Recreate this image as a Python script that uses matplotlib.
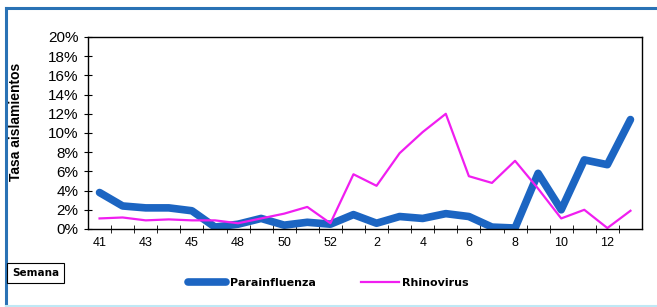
import matplotlib.pyplot as plt
from matplotlib.lines import Line2D
from matplotlib.ticker import FixedLocator, PercentFormatter

plt.rcParams['font.family'] = ['Liberation Sans', 'DejaVu Sans']

# Weeks (epidemiological) and isolation rates in %
semanas = ['41', '42', '43', '44', '45', '47', '48', '49', '50', '51', '52',
           '1', '2', '3', '4', '5', '6', '7', '8', '9', '10', '11', '12', '13']
parainfluenza = [3.8, 2.4, 2.2, 2.2, 1.9, 0.2, 0.5, 1.1, 0.4, 0.7, 0.5,
                 1.5, 0.6, 1.3, 1.1, 1.6, 1.3, 0.2, 0.1, 5.8, 2.0, 7.2, 6.7, 11.4]
rhinovirus = [1.1, 1.2, 0.9, 1.0, 0.9, 0.9, 0.6, 1.1, 1.6, 2.3, 0.6,
              5.7, 4.5, 7.9, 10.1, 12.0, 5.5, 4.8, 7.1, 4.2, 1.1, 2.0, 0.1, 1.9]

W, H = 657, 307
fig = plt.figure(figsize=(W / 100, H / 100), dpi=100)

# outer frame of the chart object: blue top/left, pale bottom
fig.add_artist(Line2D([6 / W, 1], [1 - 8 / H] * 2, color='#2a72b5', lw=2.2))
fig.add_artist(Line2D([6 / W] * 2, [1 - 8 / H, 0], color='#2a72b5', lw=2.2))
fig.add_artist(Line2D([6 / W, 1], [1 / H] * 2, color='#bfe8f5', lw=1.5))

ax = fig.add_axes([88 / W, 78 / H, 554 / W, 192 / H])
x = list(range(len(semanas)))
ax.plot(x, parainfluenza, color='#1c65c2', linewidth=5.5, solid_capstyle='round',
        solid_joinstyle='round', label='Parainfluenza')
ax.plot(x, rhinovirus, color='#f01ef0', linewidth=1.6, label='Rhinovirus')

ax.set_xlim(-0.5, len(semanas) - 0.5)
ax.set_ylim(0, 20)
ax.yaxis.set_major_locator(FixedLocator(range(0, 21, 2)))
ax.yaxis.set_major_formatter(PercentFormatter(decimals=0))
ax.tick_params(axis='y', direction='inout', length=6, labelsize=11, pad=4)

# category labels every other week, tick marks between categories
ax.set_xticks(x[::2])
ax.set_xticklabels(semanas[::2], fontsize=9)
ax.tick_params(axis='x', which='major', length=0, pad=6)
ax.set_xticks([i + 0.5 for i in range(len(semanas) - 1)], minor=True)
ax.tick_params(axis='x', which='minor', direction='inout', length=6)

for s in ax.spines.values():
    s.set_linewidth(1.0)

ax.set_ylabel('Tasa aislamientos', fontsize=10, fontweight='bold')
ax.yaxis.set_label_coords((23 - 88) / 554, 0.56)

fig.legend(loc='center left', bbox_to_anchor=(184 / W, 1 - 283 / H), ncol=2,
           frameon=False, prop={'family': 'DejaVu Sans', 'size': 8, 'weight': 'bold'},
           handlelength=3.4, handletextpad=0.3, columnspacing=4.1,
           borderaxespad=0)

fig.text(12 / W, 1 - 273 / H, 'Semana', fontsize=7.5, fontweight='bold',
         family='DejaVu Sans', va='center', ha='left',
         bbox=dict(boxstyle='square,pad=0.5', facecolor='white',
                   edgecolor='black', linewidth=0.8))

fig.savefig('out.png', dpi=100)
